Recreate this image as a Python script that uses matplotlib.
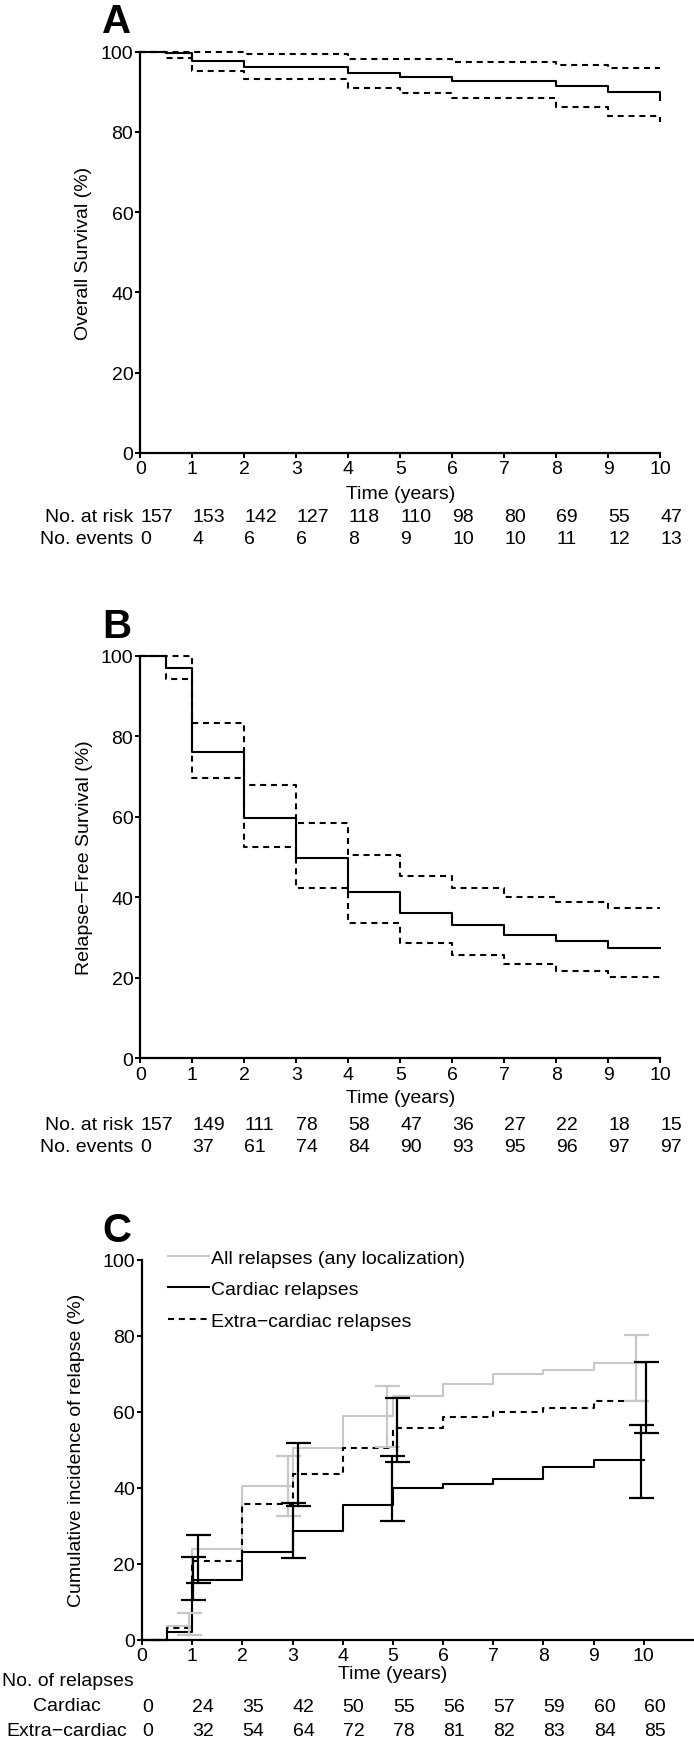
import matplotlib
matplotlib.use('Agg')
import matplotlib.pyplot as plt
import matplotlib.transforms as mtransforms
from matplotlib.lines import Line2D

plt.rcParams['font.family'] = ['Liberation Sans', 'DejaVu Sans']

# ---------------- data ----------------
years = [0, 0.5, 1, 2, 3, 4, 5, 6, 7, 8, 9, 10]

# Panel A: overall survival (step estimates and 95% CI)
os_est = [100, 99.6, 97.7, 96.2, 96.2, 94.7, 93.7, 92.7, 92.7, 91.3, 89.8, 87.8]
os_upper = [100, 100, 100, 99.4, 99.4, 98.2, 98.2, 97.3, 97.3, 96.7, 95.9, 95.9]
os_lower = [100, 98.4, 95.1, 93.2, 93.2, 90.8, 89.6, 88.3, 88.3, 86.3, 83.9, 82.4]

# Panel B: relapse-free survival
rfs_est = [100, 96.9, 76.0, 59.7, 49.7, 41.2, 36.0, 33.0, 30.6, 29.2, 27.5, 27.5]
rfs_upper = [100, 100, 83.2, 68.0, 58.5, 50.5, 45.2, 42.3, 40.0, 38.9, 37.4, 37.4]
rfs_lower = [100, 94.2, 69.7, 52.4, 42.2, 33.7, 28.6, 25.6, 23.4, 21.8, 20.1, 20.1]

# Panel C: cumulative incidence of relapse
all_rel = [0, 3.5, 24.0, 40.4, 50.5, 59.0, 64.2, 67.2, 69.8, 71.1, 72.7, 72.7]
cardiac_rel = [0, 1.9, 15.6, 23.2, 28.6, 35.4, 39.8, 40.9, 42.2, 45.4, 47.2, 47.2]
extra_rel = [0, 3.2, 20.7, 35.8, 43.6, 50.4, 55.6, 58.7, 59.8, 61.1, 62.8, 62.8]

# Panel C confidence intervals (time, low, high)
all_ci_t = [0.93, 2.90, 4.89, 9.85]
all_ci_lo = [1.2, 32.6, 50.6, 62.9]
all_ci_hi = [6.9, 48.4, 66.8, 80.2]
card_ci_t = [1.02, 3.01, 4.99, 9.95]
card_ci_lo = [10.4, 21.4, 31.3, 37.2]
card_ci_hi = [21.7, 36.1, 48.3, 56.5]
extra_ci_t = [1.12, 3.11, 5.09, 10.05]
extra_ci_lo = [14.8, 35.3, 46.7, 54.4]
extra_ci_hi = [27.5, 51.8, 63.7, 73.0]

# number at risk tables
table_years = [0, 1, 2, 3, 4, 5, 6, 7, 8, 9, 10]
os_at_risk = [157, 153, 142, 127, 118, 110, 98, 80, 69, 55, 47]
os_events = [0, 4, 6, 6, 8, 9, 10, 10, 11, 12, 13]
rfs_at_risk = [157, 149, 111, 78, 58, 47, 36, 27, 22, 18, 15]
rfs_events = [0, 37, 61, 74, 84, 90, 93, 95, 96, 97, 97]
cardiac_n = [0, 24, 35, 42, 50, 55, 56, 57, 59, 60, 60]
extra_n = [0, 32, 54, 64, 72, 78, 81, 82, 83, 84, 85]

# ---------------- figure ----------------
W, H = 694, 1740
fig = plt.figure(figsize=(W / 100, H / 100), dpi=100)
FS = 14
GREY = '#c8c8c8'
LW = 1.5
DASH = (2.9, 2.3)


def px_axes(left, top, right, bottom):
    return fig.add_axes([left / W, 1 - bottom / H, (right - left) / W, (bottom - top) / H])


def style(ax, xmax):
    for s in ('top', 'right'):
        ax.spines[s].set_visible(False)
    for s in ('left', 'bottom'):
        ax.spines[s].set_linewidth(1.6)
    ax.set_xlim(0, xmax)
    ax.set_ylim(0, 100)
    ax.set_xticks(range(0, 11))
    ax.set_yticks(range(0, 101, 20))
    ax.tick_params(direction='out', length=3.6, width=1.4, labelsize=FS, pad=1.5)
    ax.tick_params(axis='x', pad=1.8)


def step(ax, y, **kw):
    ax.step(years, y, where='post', clip_on=False, **kw)


def table_row(ax, yfrac, values, label=None, label_x=-0.14):
    tr = mtransforms.blended_transform_factory(ax.transData, ax.transAxes)
    for t, v in zip(table_years, values):
        ax.text(t, yfrac, str(v), transform=tr, ha='left', va='center', fontsize=FS)
    if label is not None:
        ax.text(label_x, yfrac, label, transform=tr, ha='right', va='center', fontsize=FS)


# Panel A
axA = px_axes(140.4, 52.5, 660, 454)
style(axA, 10)
step(axA, os_est, color='black', lw=LW)
step(axA, os_upper, color='black', lw=LW, dashes=DASH)
step(axA, os_lower, color='black', lw=LW, dashes=DASH)
axA.set_ylabel('Overall Survival (%)', fontsize=FS)
axA.yaxis.set_label_coords(-0.093, 0.5)
trA = mtransforms.blended_transform_factory(axA.transData, axA.transAxes)
axA.text(5, -0.100, 'Time (years)', transform=trA, ha='center', va='center', fontsize=FS)
table_row(axA, -0.158, os_at_risk, 'No. at risk')
table_row(axA, -0.213, os_events, 'No. events')
fig.text(102 / W, 1 - 33 / H, 'A', fontsize=29, fontweight='bold', ha='left', va='baseline')

# Panel B
axB = px_axes(140.4, 656.7, 660, 1059.3)
style(axB, 10)
step(axB, rfs_est, color='black', lw=LW)
step(axB, rfs_upper, color='black', lw=LW, dashes=DASH)
step(axB, rfs_lower, color='black', lw=LW, dashes=DASH)
axB.set_ylabel('Relapse\u2212Free Survival (%)', fontsize=FS)
axB.yaxis.set_label_coords(-0.091, 0.5)
trB = mtransforms.blended_transform_factory(axB.transData, axB.transAxes)
axB.text(5, -0.097, 'Time (years)', transform=trB, ha='center', va='center', fontsize=FS)
table_row(axB, -0.164, rfs_at_risk, 'No. at risk')
table_row(axB, -0.219, rfs_events, 'No. events')
fig.text(102 / W, 1 - 638 / H, 'B', fontsize=29, fontweight='bold', ha='left', va='baseline')

# Panel C
axC = px_axes(142, 1260.7, 694, 1640.7)
style(axC, 11.0)
step(axC, all_rel, color=GREY, lw=LW)
step(axC, extra_rel, color='black', lw=LW, dashes=DASH)
step(axC, cardiac_rel, color='black', lw=LW)


def ci(ax, t, lo, hi, color):
    mid = [(a + b) / 2 for a, b in zip(lo, hi)]
    half = [(b - a) / 2 for a, b in zip(lo, hi)]
    ax.errorbar(t, mid, yerr=half, fmt='none', ecolor=color, elinewidth=1.6,
                capsize=9, capthick=1.6, clip_on=False)


ci(axC, all_ci_t, all_ci_lo, all_ci_hi, GREY)
ci(axC, card_ci_t, card_ci_lo, card_ci_hi, 'black')
ci(axC, extra_ci_t, extra_ci_lo, extra_ci_hi, 'black')

handles = [Line2D([], [], color=GREY, lw=LW),
           Line2D([], [], color='black', lw=LW),
           Line2D([], [], color='black', lw=LW, dashes=DASH)]
labels = ['All relapses (any localization)', 'Cardiac relapses', 'Extra\u2212cardiac relapses']
axC.legend(handles, labels, loc='upper left', bbox_to_anchor=(0.047, 1.028), frameon=False,
           borderpad=0, borderaxespad=0, handlelength=2.1, handletextpad=0.1,
           labelspacing=0.72, fontsize=FS)
axC.set_ylabel('Cumulative incidence of relapse (%)', fontsize=FS)
axC.yaxis.set_label_coords(-0.103, 0.5)
trC = mtransforms.blended_transform_factory(axC.transData, axC.transAxes)
axC.text(5, -0.090, 'Time (years)', transform=trC, ha='center', va='center', fontsize=FS)
fig.text(2 / W, 1 - 1682 / H, 'No. of relapses', ha='left', va='center', fontsize=FS)
table_row(axC, -0.175, cardiac_n)
table_row(axC, -0.240, extra_n)
fig.text(67 / W, 1 - 1707 / H, 'Cardiac', ha='center', va='center', fontsize=FS)
fig.text(67 / W, 1 - 1732 / H, 'Extra\u2212cardiac', ha='center', va='center', fontsize=FS)
fig.text(102 / W, 1 - 1242 / H, 'C', fontsize=29, fontweight='bold', ha='left', va='baseline')

fig.savefig('out.png', dpi=100)
